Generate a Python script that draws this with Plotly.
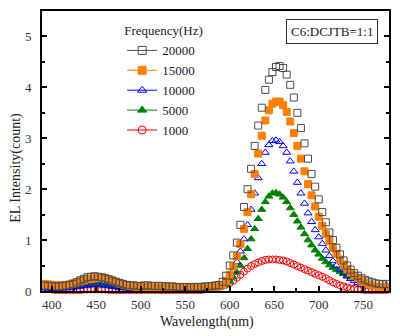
import plotly.graph_objects as go

# Wavelength grid (nm) shared by every spectrum
wavelength = list(range(388, 781, 4))

# EL intensity (count) for each drive frequency
i_20000 = [
    0.12, 0.11, 0.10, 0.10, 0.09, 0.09, 0.10, 0.11, 0.12,
    0.14, 0.17, 0.21, 0.24, 0.27, 0.28, 0.29,
    0.28, 0.27, 0.25, 0.23, 0.20, 0.18, 0.16, 0.14, 0.12, 0.11, 0.11, 0.10,
    0.10, 0.11, 0.11, 0.10, 0.10, 0.10, 0.10, 0.09, 0.09, 0.09, 0.08, 0.08,
    0.08, 0.08, 0.08, 0.08, 0.08, 0.08, 0.09, 0.09, 0.10, 0.11, 0.12,
    0.18, 0.30, 0.50, 0.70, 0.95, 1.30, 1.65, 2.00, 2.40, 2.85, 3.25, 3.60,
    3.95, 4.15, 4.30, 4.40,
    4.42, 4.38, 4.25, 4.05, 3.80, 3.50, 3.20, 2.90, 2.60, 2.30, 2.05, 1.80,
    1.55, 1.35, 1.15, 1.00,
    0.85, 0.72, 0.60, 0.50, 0.42, 0.35, 0.30, 0.25, 0.22, 0.19, 0.17, 0.15,
    0.14, 0.13, 0.14, 0.20,
]
i_15000 = [
    0.15, 0.14, 0.13, 0.12, 0.12, 0.11, 0.11, 0.12, 0.13,
    0.15, 0.17, 0.19, 0.21, 0.23, 0.24, 0.25,
    0.26, 0.26, 0.25, 0.23, 0.21, 0.18, 0.15, 0.13, 0.11, 0.10, 0.09, 0.08,
    0.08, 0.08, 0.08, 0.07, 0.07, 0.07, 0.07, 0.07, 0.06, 0.06, 0.06, 0.06,
    0.06, 0.06, 0.06, 0.06, 0.06, 0.06, 0.06, 0.07, 0.07, 0.08, 0.09,
    0.12, 0.20, 0.32, 0.48, 0.68, 0.92, 1.22, 1.55, 1.90, 2.30, 2.70, 3.05,
    3.35, 3.55, 3.68, 3.72,
    3.72, 3.65, 3.52, 3.33, 3.10, 2.85, 2.60, 2.35, 2.10, 1.88, 1.66, 1.46,
    1.28, 1.12, 0.98, 0.85,
    0.73, 0.62, 0.52, 0.43, 0.36, 0.30, 0.25, 0.20, 0.16, 0.13, 0.11, 0.09,
    0.08, 0.07, 0.07, 0.08,
]
i_10000 = [
    0.06, 0.06, 0.05, 0.05, 0.05, 0.05, 0.05, 0.06, 0.06,
    0.07, 0.08, 0.09, 0.10, 0.11, 0.12, 0.12,
    0.12, 0.12, 0.11, 0.10, 0.09, 0.08, 0.07, 0.06, 0.06, 0.05, 0.05, 0.05,
    0.05, 0.05, 0.05, 0.05, 0.05, 0.05, 0.04, 0.04, 0.04, 0.04, 0.04, 0.04,
    0.04, 0.04, 0.04, 0.04, 0.04, 0.04, 0.05, 0.05, 0.06, 0.07, 0.08,
    0.11, 0.17, 0.27, 0.40, 0.57, 0.78, 1.02, 1.30, 1.60, 1.92, 2.22, 2.50,
    2.72, 2.87, 2.95, 2.96,
    2.93, 2.85, 2.72, 2.55, 2.35, 2.13, 1.92, 1.72, 1.53, 1.36, 1.20, 1.06,
    0.93, 0.80, 0.69, 0.59,
    0.50, 0.42, 0.35, 0.29, 0.24, 0.20, 0.16, 0.13, 0.11, 0.09, 0.08, 0.07,
    0.07, 0.08, 0.12, 0.25,
]
i_5000 = [
    0.12, 0.12, 0.11, 0.10, 0.09, 0.08, 0.08, 0.08, 0.08,
    0.09, 0.10, 0.11, 0.12, 0.13, 0.13, 0.13,
    0.13, 0.12, 0.11, 0.10, 0.09, 0.08, 0.07, 0.06, 0.06, 0.05, 0.05, 0.05,
    0.05, 0.05, 0.05, 0.04, 0.04, 0.04, 0.04, 0.04, 0.04, 0.04, 0.04, 0.04,
    0.04, 0.04, 0.04, 0.04, 0.04, 0.04, 0.04, 0.05, 0.05, 0.06, 0.07,
    0.09, 0.13, 0.19, 0.27, 0.37, 0.50, 0.65, 0.83, 1.02, 1.22, 1.42, 1.60,
    1.75, 1.86, 1.92, 1.93,
    1.90, 1.84, 1.75, 1.63, 1.50, 1.37, 1.25, 1.12, 1.00, 0.90, 0.80, 0.72,
    0.64, 0.57, 0.51, 0.46,
    0.42, 0.38, 0.34, 0.30, 0.27, 0.24, 0.21, 0.18, 0.15, 0.12, 0.10, 0.08,
    0.07, 0.06, 0.06, 0.07,
]
i_1000 = [
    0.13, 0.08, 0.05, 0.03, 0.02, 0.02, 0.02, 0.02, 0.02,
    0.02, 0.02, 0.02, 0.03, 0.03, 0.03, 0.03,
    0.03, 0.03, 0.03, 0.02, 0.02, 0.02, 0.02, 0.02, 0.02, 0.02, 0.02, 0.02,
    0.02, 0.02, 0.02, 0.02, 0.02, 0.02, 0.02, 0.02, 0.02, 0.02, 0.02, 0.02,
    0.02, 0.02, 0.02, 0.02, 0.02, 0.02, 0.03, 0.04, 0.04, 0.06, 0.08,
    0.10, 0.13, 0.16, 0.20, 0.26, 0.32, 0.38, 0.44, 0.49, 0.53, 0.56, 0.59,
    0.61, 0.62, 0.62, 0.62,
    0.61, 0.60, 0.58, 0.55, 0.52, 0.49, 0.46, 0.43, 0.40, 0.37, 0.34, 0.31,
    0.28, 0.25, 0.21, 0.17,
    0.14, 0.11, 0.09, 0.07, 0.05, 0.04, 0.03, 0.03, 0.02, 0.02, 0.02, 0.02,
    0.02, 0.02, 0.02, 0.02,
]

frequencies = ["20000", "15000", "10000", "5000", "1000"]
spectra = [i_20000, i_15000, i_10000, i_5000, i_1000]
symbols = ["square-open", "square", "triangle-up-open", "triangle-up", "circle-open"]
colors = ["#4d4d4d", "#ff7f00", "#0000ff", "#008000", "#ff0000"]

FONT = "Liberation Serif"

fig = go.Figure()

# Lowest frequency first so the strongest spectrum sits on top
for name, ys, sym, col in reversed(list(zip(frequencies, spectra, symbols, colors))):
    fig.add_trace(go.Scatter(
        x=wavelength, y=ys, mode="markers", name=name, showlegend=False,
        cliponaxis=False,
        marker=dict(symbol=sym, size=7, color=col, line=dict(color=col, width=1)),
    ))

# Legend keys: line through marker
for name, sym, col in zip(frequencies, symbols, colors):
    fig.add_trace(go.Scatter(
        x=[None], y=[None], mode="lines+markers", name=name,
        line=dict(color=col, width=1),
        marker=dict(symbol=sym, size=8, color=col, line=dict(color=col, width=1)),
    ))

axis_common = dict(
    showline=True, linecolor="black", linewidth=2, mirror=True,
    ticks="inside", tickcolor="black", tickwidth=2,
    showgrid=False, zeroline=False,
    tickfont=dict(family=FONT, size=13, color="#333"),
)

fig.update_xaxes(
    range=[389, 779], tickvals=[400, 450, 500, 550, 600, 650, 700, 750],
    ticklen=5,
    minor=dict(ticks="inside", ticklen=3, tickcolor="black", tickwidth=1.5, dtick=25, tick0=400),
    **axis_common,
)
fig.update_yaxes(
    range=[0, 5.5], tickvals=[0, 1, 2, 3, 4, 5], ticklen=5,
    minor=dict(ticks="inside", ticklen=3, tickcolor="black", tickwidth=1.5, dtick=0.5, tick0=0),
    ticklabelstandoff=6,
    **axis_common,
)
fig.update_yaxes(mirror="ticks")

fig.update_layout(
    width=400, height=336,
    margin=dict(l=42, r=11, t=9, b=45),
    paper_bgcolor="white", plot_bgcolor="white",
    font=dict(family=FONT, size=13, color="#222"),
    legend=dict(
        title=dict(text="Frequency(Hz)", font=dict(family=FONT, size=13, color="#222")),
        font=dict(family=FONT, size=13, color="#222"),
        x=0.231, y=0.973, xanchor="left", yanchor="top",
        bgcolor="rgba(0,0,0,0)", borderwidth=0,
    ),
    showlegend=True,
    annotations=[
        dict(text="EL Intensity(count)", xref="paper", yref="paper",
             x=-0.075, y=0.44, xanchor="center", yanchor="middle", textangle=-90,
             showarrow=False, font=dict(family=FONT, size=14, color="#222")),
        dict(text="Wavelength(nm)", xref="paper", yref="paper",
             x=0.475, y=-0.11, xanchor="center", yanchor="middle",
             showarrow=False, font=dict(family=FONT, size=14, color="#222")),
        dict(text="C6:DCJTB=1:1", xref="paper", yref="paper",
             x=0.835, y=0.925, xanchor="center", yanchor="middle",
             showarrow=False, bordercolor="#333", borderwidth=1, borderpad=4,
             font=dict(family=FONT, size=13, color="#222")),
    ],
)

fig.write_html("out.html")
